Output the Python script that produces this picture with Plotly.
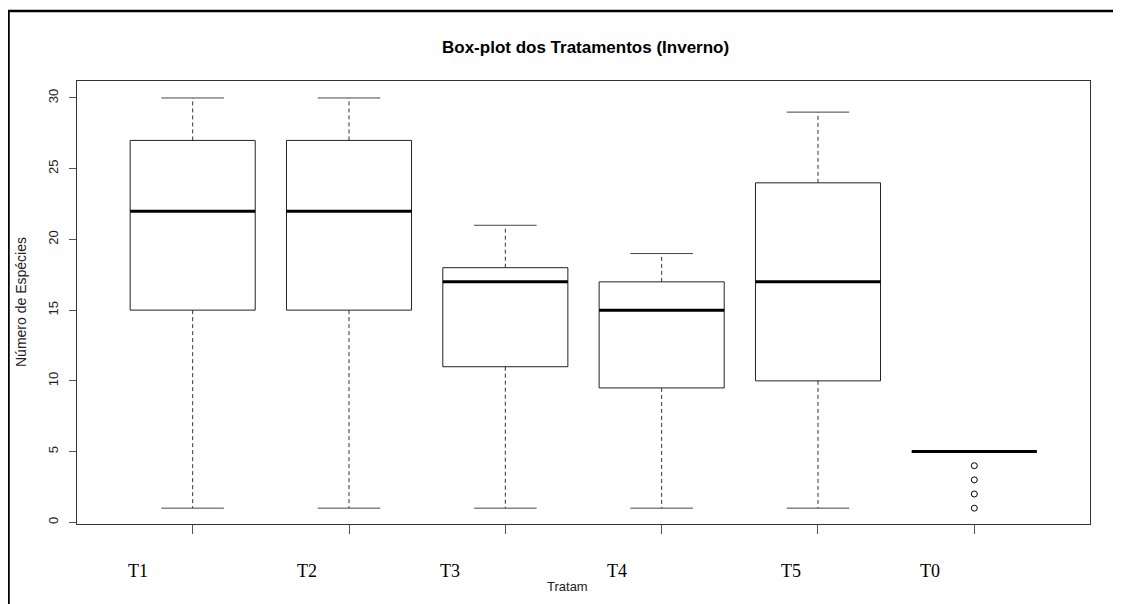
import plotly.graph_objects as go

# ---- data ----
categories = ["T1", "T2", "T3", "T4", "T5", "T0"]
lower_whisker = [1, 1, 1, 1, 1, 5]
q1 = [15, 15, 11, 9.5, 10, 5]
median = [22, 22, 17, 15, 17, 5]
q3 = [27, 27, 18, 17, 24, 5]
upper_whisker = [30, 30, 21, 19, 29, 5]
outlier_cat = ["T0", "T0", "T0", "T0"]
outlier_val = [4, 3, 2, 1]

title_text = "Box-plot dos Tratamentos (Inverno)"
y_title = "Número de Espécies"
x_title = "Tratam"
y_ticks = [0, 5, 10, 15, 20, 25, 30]

# ---- geometry helpers (layout only); page has an 8px body margin ----
OFF = 8
W, H = 1121 - OFF, 604 - OFF
PL, PR, PT, PB = 77, 1090, 81, 524   # plot area in page pixels
L, T = PL - OFF, PT - OFF
R, B = W - (PR - OFF), H - (PB - OFF)
pw, ph = PR - PL, PB - PT
half_box = 0.4
half_cap = 0.2

pos = {c: i + 1 for i, c in enumerate(categories)}

def px2x(px):
    return (px - PL) / pw

def py2y(py):
    return (PB - py) / ph

box_x, box_y = [], []
wh_x, wh_y = [], []
cap_x, cap_y = [], []
med_x, med_y = [], []
for c, lo, a, m, b, hi in zip(categories, lower_whisker, q1, median, q3, upper_whisker):
    x = pos[c]
    box_x += [x - half_box, x + half_box, x + half_box, x - half_box, x - half_box, None]
    box_y += [a, a, b, b, a, None]
    wh_x += [x, x, None, x, x, None]
    wh_y += [b, hi, None, a, lo, None]
    cap_x += [x - half_cap, x + half_cap, None, x - half_cap, x + half_cap, None]
    cap_y += [hi, hi, None, lo, lo, None]
    med_x += [x - half_box, x + half_box, None]
    med_y += [m, m, None]

fig = go.Figure()
fig.add_trace(go.Scatter(x=wh_x, y=wh_y, mode="lines", hoverinfo="skip",
                         line=dict(color="#333333", width=1, dash="4px,3px")))
fig.add_trace(go.Scatter(x=cap_x, y=cap_y, mode="lines", hoverinfo="skip",
                         line=dict(color="#444444", width=1)))
fig.add_trace(go.Scatter(x=box_x, y=box_y, mode="lines", hoverinfo="skip",
                         line=dict(color="#222222", width=1)))
fig.add_trace(go.Scatter(x=med_x, y=med_y, mode="lines", hoverinfo="skip",
                         line=dict(color="#000000", width=3)))
fig.add_trace(go.Scatter(x=[pos[c] for c in outlier_cat], y=outlier_val, mode="markers",
                         marker=dict(symbol="circle-open", size=6, color="#000000",
                                     line=dict(width=1))))

annotations = []
label_px = [138, 307, 450, 617, 791, 930]
for c, lx in zip(categories, label_px):
    annotations.append(dict(text=c, xref="paper", yref="paper", x=px2x(lx), y=py2y(571),
                            xanchor="center", yanchor="middle", showarrow=False,
                            font=dict(family="Liberation Serif", size=18, color="#000000")))
annotations.append(dict(text=x_title, xref="paper", yref="paper", x=px2x(567), y=py2y(586),
                        xanchor="center", yanchor="middle", showarrow=False,
                        font=dict(family="Liberation Sans", size=13, color="#222222")))
annotations.append(dict(text=y_title, xref="paper", yref="paper", x=px2x(21), y=py2y(302),
                        xanchor="center", yanchor="middle", showarrow=False, textangle=-90,
                        font=dict(family="Liberation Sans", size=14, color="#222222")))
annotations.append(dict(text="<b>" + title_text + "</b>", xref="paper", yref="paper",
                        x=px2x(585), y=py2y(47), xanchor="center", yanchor="middle",
                        showarrow=False,
                        font=dict(family="Liberation Sans", size=17, color="#000000")))

shapes = [
    dict(type="line", xref="paper", yref="paper", x0=px2x(OFF), x1=px2x(1130),
         y0=py2y(11), y1=py2y(11), line=dict(color="#000000", width=2.5)),
    dict(type="line", xref="paper", yref="paper", x0=px2x(OFF + 0.5), x1=px2x(OFF + 0.5),
         y0=py2y(11), y1=py2y(620), line=dict(color="#000000", width=2.5)),
]

fig.update_layout(
    width=W, height=H,
    margin=dict(l=L, r=R, t=T, b=B),
    paper_bgcolor="white", plot_bgcolor="white",
    showlegend=False,
    annotations=annotations,
    shapes=shapes,
    xaxis=dict(range=[0.26, 6.74], tickvals=[pos[c] for c in categories],
               showticklabels=False, ticks="outside", ticklen=9, tickcolor="#555555",
               showgrid=False, zeroline=False, showline=True, mirror=True,
               linecolor="#333333", linewidth=1),
    yaxis=dict(range=[-0.12, 31.2], tickvals=y_ticks, tickangle=-90,
               ticks="outside", ticklen=7, tickcolor="#555555", ticklabelstandoff=6,
               tickfont=dict(family="Liberation Sans", size=13, color="#222222"),
               showgrid=False, zeroline=False, showline=True, mirror=True,
               linecolor="#333333", linewidth=1),
)

fig.write_html("out.html")
